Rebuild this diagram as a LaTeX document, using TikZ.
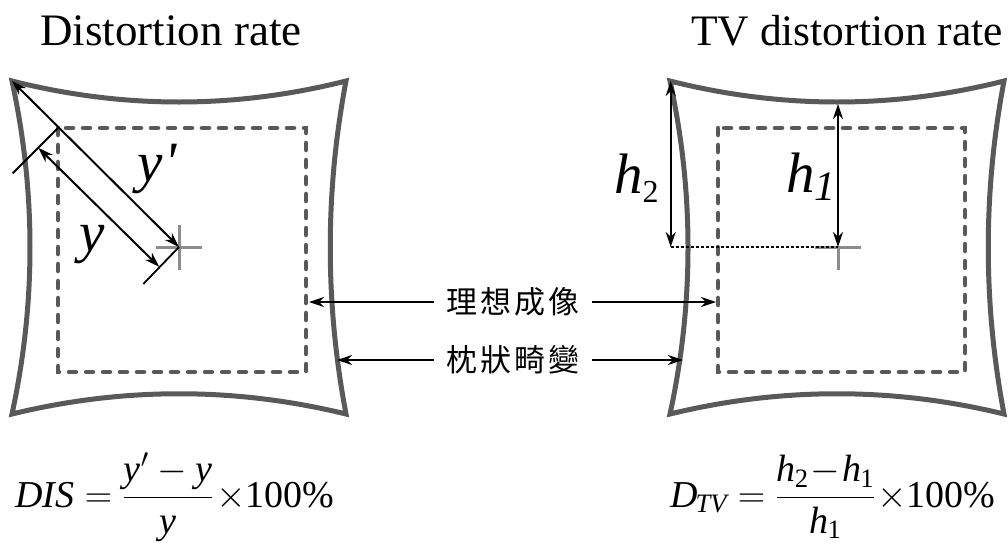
\RequirePackage{fix-cm}
\documentclass[tikz,border=0pt]{standalone}
\usepackage{amsmath}
\usepackage{fontspec}
\setmainfont{Liberation Serif}
\newfontfamily\cjk{Noto Sans CJK TC}
\newfontfamily\rawserif[Ligatures=TeXOff]{Liberation Serif}
\usetikzlibrary{arrows.meta}
\definecolor{framegray}{HTML}{595959}
\definecolor{crossgray}{HTML}{8C8C8C}
\tikzset{
  frame/.style={draw=framegray, line width=5pt, line join=miter, miter limit=20},
  ideal/.style={draw=framegray, line width=4.5pt, line cap=round, dash pattern=on 7pt off 10pt},
  crossline/.style={draw=crossgray, line width=3pt},
  arr/.style={-{Stealth[length=15pt,width=10pt]}, line width=2pt},
  darr/.style={{Stealth[length=15pt,width=10pt]}-{Stealth[length=15pt,width=10pt]}, line width=2pt},
  extline/.style={line width=1.8pt},
  guide/.style={line width=1.4pt, dash pattern=on 3pt off 2pt},
  title/.style={font=\fontsize{45}{50}\selectfont, inner sep=0pt, anchor=base},
  biglab/.style={font=\fontsize{57}{60}\selectfont, inner sep=0pt, anchor=base west},
  formula/.style={font=\fontsize{38}{40}\selectfont, inner sep=0pt, anchor=base west},
  cjklab/.style={font=\fontsize{31}{32}\selectfont\cjk, inner ysep=0pt, inner xsep=12pt},
}
\begin{document}
\begin{tikzpicture}[x=1pt,y=-1pt]
\useasboundingbox (0,0) rectangle (1008,552);
% titles
\node[title] (t1) at (171,45) {Distortion rate};
\node[title, font=\fontsize{43.5}{50}\selectfont] (t2) at (847,45) {TV distortion rate};
% pincushion frames
\foreach \ox/\oy in {12/81, 670/81}{
  \begin{scope}[shift={(\ox,\oy)}]
  \path[frame] (0,0) .. controls (111,28) and (223,28) .. (334,0)
     .. controls (313,111) and (313,222) .. (334,333)
     .. controls (223,306) and (111,306) .. (0,333)
     .. controls (24,222) and (24,111) .. cycle;
  \end{scope}
}
% ideal (dashed) images
\path[ideal] (58,128) rectangle (306,372);
\path[ideal] (718,128) rectangle (965,372);
% crosses
\path[crossline] (156,247) -- (202,247) (179,225) -- (179,270);
\path[crossline] (815,247) -- (861,247) (838,247) -- (838,270);
% left measurements
\coordinate (Lcorner) at (12,81);
\coordinate (Lcenter) at (179,247);
\coordinate (Ldash) at (58,128);
\coordinate (Lext1) at (12.7,173.3);
\coordinate (Lext2) at (143.3,284);
\coordinate (Lya) at (38.3,147.8);
\coordinate (Lyb) at (159.2,266.8);
\draw[extline] (Ldash) -- (Lext1);
\draw[extline] (Lcenter) -- (Lext2);
\draw[darr] (Lcorner) -- (Lcenter);
\draw[darr] (Lya) -- (Lyb);
\node[biglab] (yp) at (137,181) {\textit{y}\kern2pt{\rawserif\itshape\char"27}};
\node[biglab] (yy) at (79,251) {\textit{y}};
% right measurements
\coordinate (Rcorner) at (670.7,81);
\coordinate (Rfoot) at (670.7,247);
\coordinate (Rtop) at (838,104);
\coordinate (Rcenter) at (838,247);
\draw[guide] (Rfoot) -- (Rcenter);
\draw[darr] (Rcorner) -- (Rfoot);
\draw[darr] (Rtop) -- (Rcenter);
\node[biglab] (h2) at (614,193) {\textit{h}\raisebox{-9pt}{\fontsize{32}{34}\selectfont 2}};
\node[biglab] (h1) at (786,192) {\textit{h}\raisebox{-8pt}{\fontsize{42}{44}\selectfont\textit{1}}};
% middle labels
\node[cjklab] (idealtxt) at (513,302) {理\kern3pt 想\kern3pt 成\kern3pt 像};
\node[cjklab] (pintxt) at (513,360) {枕\kern3pt 狀\kern3pt 畸\kern3pt 變};
\coordinate (idL) at (309,302);
\coordinate (idR) at (716,302);
\coordinate (piL) at (337,360);
\coordinate (piR) at (683,360);
\draw[arr] (idealtxt.west) -- (idL);
\draw[arr] (idealtxt.east) -- (idR);
\draw[arr] (pintxt.west) -- (piL);
\draw[arr] (pintxt.east) -- (piR);
% formulas
\node[formula] (f1) at (15,507) {$\textit{DIS} = \dfrac{\textit{y}'-\textit{y}}{\textit{y}}\kern3pt{\times}\text{100\%}$};
\node[formula] (f2) at (670,507) {$\textit{D}_{\kern-2pt\textit{TV}} = \dfrac{\textit{h}_{\kern-1pt\text{2}}\mkern1mu{-}\mkern1mu\textit{h}_{\kern-1pt\text{1}}}{\textit{h}_{\kern-1pt\text{1}}}\kern2pt{\times}\text{100\%}$};
\end{tikzpicture}
\end{document}
